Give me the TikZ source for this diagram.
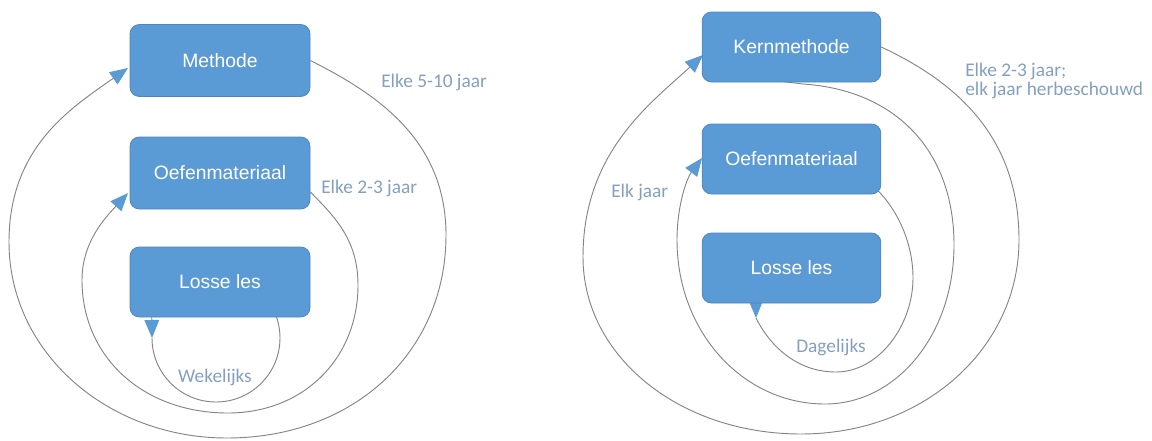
\documentclass[tikz,border=0pt]{standalone}
\usepackage{fontspec}
\setmainfont{Liberation Sans}
\newfontfamily\lblfont{Carlito}
\usetikzlibrary{arrows.meta,calc}
\definecolor{boxblue}{HTML}{5B9BD5}
\definecolor{boxedge}{HTML}{4F86BE}
\definecolor{lblcol}{HTML}{83A0C1}
\definecolor{loopcol}{HTML}{858585}
\pgfdeclarelayer{bg}
\pgfsetlayers{bg,main}
\begin{document}
\begin{tikzpicture}[x=0.75pt,y=-0.75pt,
  blk/.style={draw=boxedge, line width=0.6pt, fill=boxblue, rounded corners=7pt,
    minimum width=135pt, minimum height=54pt, text=white,
    font=\fontsize{14.5pt}{17pt}\selectfont, inner sep=0pt},
  cyc/.style={draw=loopcol, line width=0.7pt},
  arr/.style={cyc, -{Triangle[length=13.5pt,width=11pt,color=boxblue]}},
  lbltext/.style={text=lblcol, font=\lblfont\fontsize{14.5pt}{14.3pt}\selectfont, inner sep=0pt}]
\useasboundingbox (0,0) rectangle (1152,440);

% ---------- left diagram ----------
\node[blk] (meth) at (220,60.5) {Methode};
\node[blk] (oef) at (220,173) {Oefenmateriaal};
\node[blk, minimum height=52.5pt] (losse) at (220,282) {Losse les};

\coordinate (mT) at (128,68);
\coordinate (oS) at ($(oef.east)+(0,19)$);
\coordinate (oT) at (128,193);
\coordinate (wT) at (152,338);
\coordinate (wA) at ($(losse.south west)+(22,-14)$);

\node[lbltext, anchor=base west] (l1) at (381,87) {Elke 5-10 jaar};
\node[lbltext, anchor=base west] (l2) at (321,193) {Elke 2-3 jaar};
\node[lbltext, anchor=base] (l3) at (215,382) {Wekelijks};

% ---------- right diagram ----------
\node[blk, minimum width=134pt, minimum height=52.5pt] (kern) at (791.5,47) {Kernmethode};
\node[blk, minimum width=134pt, minimum height=52.5pt] (roef) at (791.5,159) {Oefenmateriaal};
\node[blk, minimum width=134pt, minimum height=52.5pt] (rlosse) at (791.5,268) {Losse les};

\coordinate (kT) at (703,55);
\coordinate (rS) at (770,80);
\coordinate (rT) at (702,158);
\coordinate (dT) at (756,318);
\coordinate (dA) at ($(rlosse.south west)+(54,-16)$);

\node[lbltext, anchor=base west] (l4) at (611,197) {Elk jaar};
\node[lbltext, anchor=north west, align=left] (l5) at (965,62.5) {Elke 2-3 jaar;\\elk jaar herbeschouwd};
\node[lbltext, anchor=base] (l6) at (831,352) {Dagelijks};

\begin{pgfonlayer}{bg}
  % left: Methode loop
  \draw[arr] (meth.east) .. controls (377,94) and (446,140) .. (446,235)
     .. controls (446,353) and (353,438) .. (227,438)
     .. controls (107,438) and (9,352) .. (9,242)
     .. controls (9,147) and (71,108) .. (mT);
  % left: Oefenmateriaal loop
  \draw[arr] (oS) .. controls (335,217) and (358,240) .. (358,285)
     .. controls (358,359) and (303,413) .. (228,413)
     .. controls (143,413) and (82,357) .. (82,280)
     .. controls (82,240) and (108,215) .. (oT);
  % left: Losse les loop
  \draw[cyc] (wT) .. controls (152,373.3) and (180.7,402) .. (216,402)
     .. controls (251.3,402) and (280,373.3) .. (280,338)
     .. controls (280,302.7) and (251.3,274) .. (216,274);
  \draw[arr] (wA) -- (wT);
  % right: Kernmethode loop
  \draw[arr] (kern.east) .. controls (954,81) and (1019,135) .. (1019,240)
     .. controls (1019,348) and (924,434) .. (801,434)
     .. controls (679,434) and (583,356) .. (583,257)
     .. controls (583,152) and (651,103) .. (kT);
  % right: Kernmethode -> Oefenmateriaal loop
  \draw[arr] (rS) -- (803,84) .. controls (895,90) and (954,150) .. (954,245)
     .. controls (954,334) and (897,404) .. (825,404)
     .. controls (743,404) and (677,332) .. (677,240)
     .. controls (677,205) and (687,178) .. (rT);
  % right: Oefenmateriaal -> Losse les loop
  \draw[cyc] (dT) .. controls (769.5,345) and (796,372) .. (836,372)
     .. controls (879,372) and (913,325) .. (913,278)
     .. controls (913,240) and (895,205) .. (872,185);
  \draw[arr] (dA) -- (dT);
\end{pgfonlayer}
\end{tikzpicture}
\end{document}
